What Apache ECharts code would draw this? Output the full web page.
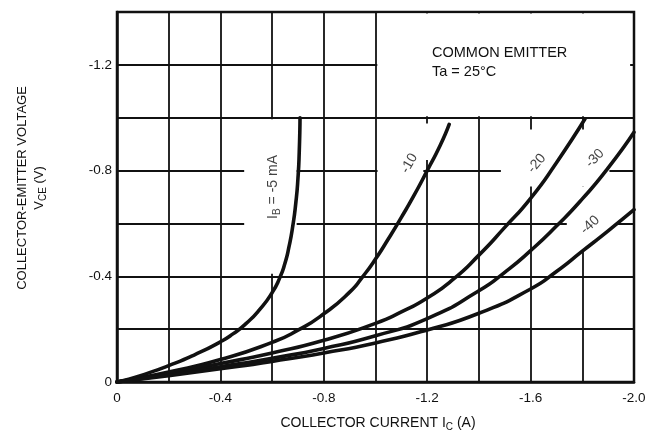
<!DOCTYPE html>
<html><head><meta charset="utf-8">
<script src="https://cdn.jsdelivr.net/npm/echarts@6/dist/echarts.min.js"></script>
<style>html,body{margin:0;padding:0;background:#fff}#c{width:655px;height:438px}</style>
</head><body><div id="c"></div>
<script>
// ---- data ----
const xTickLabels = ['0', '-0.4', '-0.8', '-1.2', '-1.6', '-2.0'];
const yTickLabels = ['0', '-0.4', '-0.8', '-1.2'];
const curveNames = ['IB = -5 mA', '-10', '-20', '-30', '-40'];
const ib5 = [[0,0],[-0.1,-0.027],[-0.2,-0.062],[-0.3,-0.103],[-0.4,-0.152],[-0.45,-0.183],[-0.5,-0.222],[-0.55,-0.272],[-0.6,-0.338],[-0.63,-0.395],[-0.65,-0.45],[-0.665,-0.51],[-0.68,-0.59],[-0.692,-0.68],[-0.70,-0.77],[-0.705,-0.87],[-0.708,-1.0]];
const ib10 = [[0,0],[-0.2,-0.038],[-0.4,-0.085],[-0.6,-0.15],[-0.7,-0.196],[-0.8,-0.258],[-0.9,-0.34],[-0.95,-0.398],[-1.0,-0.465],[-1.05,-0.542],[-1.1,-0.623],[-1.15,-0.708],[-1.2,-0.8],[-1.25,-0.895],[-1.285,-0.975]];
const ib20 = [[0,0],[-0.2,-0.033],[-0.4,-0.07],[-0.6,-0.11],[-0.8,-0.158],[-1.0,-0.222],[-1.1,-0.265],[-1.2,-0.318],[-1.3,-0.388],[-1.4,-0.48],[-1.5,-0.585],[-1.6,-0.695],[-1.7,-0.83],[-1.81,-0.995]];
const ib30 = [[0,0],[-0.2,-0.028],[-0.4,-0.058],[-0.6,-0.09],[-0.8,-0.127],[-1.0,-0.175],[-1.2,-0.24],[-1.4,-0.345],[-1.5,-0.415],[-1.6,-0.497],[-1.7,-0.59],[-1.8,-0.693],[-1.9,-0.81],[-2.0,-0.945]];
const ib40 = [[0,0],[-0.2,-0.024],[-0.4,-0.05],[-0.6,-0.078],[-0.8,-0.11],[-1.0,-0.148],[-1.2,-0.197],[-1.4,-0.26],[-1.6,-0.352],[-1.7,-0.418],[-1.8,-0.495],[-1.9,-0.572],[-2.0,-0.652]];

// ---- annotation placement (data coordinates) ----
const labelSpots = [
  {at:[-0.605,-0.738], rot:90, text:'{a|I}{s|B}{a| = -5 mA}'},
  {at:[-1.131,-0.827], rot:60, text:'{a|-10}'},
  {at:[-1.624,-0.827], rot:50, text:'{a|-20}'},
  {at:[-1.849,-0.846], rot:46, text:'{a|-30}'},
  {at:[-1.83,-0.594], rot:43, text:'{a|-40}'}
];
const masks = [
  [[-1.007,-1.006],[-1.985,-1.394]],   // note box
  [[-0.492,-0.994],[-0.695,-0.41]],    // IB label
  [[-1.008,-0.978],[-1.215,-0.84]],    // -10 label
  [[-1.008,-0.84],[-1.185,-0.77]],
  [[-1.485,-0.955],[-1.905,-0.74]],    // -20 / -30 labels
  [[-1.74,-0.74],[-1.93,-0.50]]        // -40 label
];

const FONT = '"Liberation Sans", Arial, Helvetica, sans-serif';
const INK = '#111';

function tickFmt(labels){
  return function(v){
    for (const t of labels){ if (Math.abs(parseFloat(t) - v) < 1e-6) return t; }
    return '';
  };
}

const chart = echarts.init(document.getElementById('c'), null, {renderer:'canvas'});
const curveData = [ib5, ib10, ib20, ib30, ib40];

const series = [{
  type:'line', z:1, data:[[0,0]], symbol:'none', silent:true,
  lineStyle:{opacity:0},
  markArea:{silent:true, itemStyle:{color:'#fff', opacity:1, borderWidth:0},
    data: masks.map(m => [{coord:m[0]},{coord:m[1]}])}
}];
curveData.forEach((d,i) => series.push({
  type:'line', name:curveNames[i], data:d, z:3, smooth:0.6, symbol:'none',
  lineStyle:{color:INK, width:3.6, cap:'round', join:'round'}
}));
series.push({
  type:'scatter', z:4, symbolSize:1, itemStyle:{color:'rgba(0,0,0,0)'}, silent:true,
  data: labelSpots.map(s => ({value:s.at, label:{rotate:s.rot, formatter:s.text}})),
  label:{show:true, position:'inside', color:INK,
    rich:{a:{fontSize:14, fontFamily:FONT, color:INK, lineHeight:18},
          s:{fontSize:10, fontFamily:FONT, color:INK, verticalAlign:'bottom', lineHeight:10}}}
});

chart.setOption({
  animation:false,
  backgroundColor:'#fff',
  grid:{left:117, right:21, top:12, bottom:56, show:true, borderColor:INK, borderWidth:2.5, backgroundColor:'transparent'},
  xAxis:{type:'value', min:-2, max:0, interval:0.2, inverse:true,
    axisLine:{show:true, lineStyle:{color:INK, width:2.5}}, axisTick:{show:false},
    splitLine:{show:true, lineStyle:{color:INK, width:1.8}},
    axisLabel:{formatter:tickFmt(xTickLabels), color:INK, fontSize:13.5, fontFamily:FONT, margin:9},
    name:'{a|COLLECTOR CURRENT I}{s|C}{a| (A)}', nameLocation:'middle', nameGap:32,
    nameTextStyle:{padding:[0,0,0,5], rich:{a:{fontSize:14, fontFamily:FONT, color:INK, lineHeight:18},
      s:{fontSize:10, fontFamily:FONT, color:INK, verticalAlign:'bottom', lineHeight:10}}}
  },
  yAxis:{type:'value', min:-1.4, max:0, interval:0.2, inverse:true,
    axisLine:{show:true, lineStyle:{color:INK, width:2.5}}, axisTick:{show:false},
    splitLine:{show:true, lineStyle:{color:INK, width:1.8}},
    axisLabel:{formatter:tickFmt(yTickLabels), color:INK, fontSize:13.5, fontFamily:FONT, margin:5},
    name:'{a|COLLECTOR-EMITTER VOLTAGE}\n{a|V}{s|CE}{a| (V)}', nameLocation:'middle', nameRotate:90, nameGap:69,
    nameTextStyle:{padding:[0,0,0,18], rich:{a:{fontSize:13, fontFamily:FONT, color:INK, lineHeight:17},
      s:{fontSize:10, fontFamily:FONT, color:INK, verticalAlign:'bottom', lineHeight:10}}}
  },
  graphic:[{type:'text', left:432, top:43, z:10,
    style:{text:'COMMON EMITTER\nTa = 25°C', font:'14.5px ' + FONT, fill:INK, lineHeight:19}}],
  series: series
});
</script></body></html>
